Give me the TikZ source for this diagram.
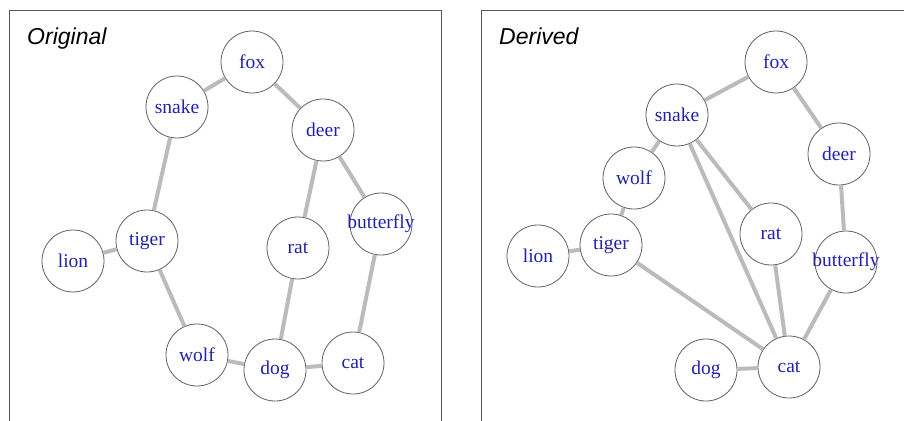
\documentclass[tikz,border=0pt]{standalone}
\usepackage{fontspec}
\setmainfont{Liberation Serif}
\newfontfamily\titlefont{Liberation Sans}
\definecolor{lbl}{HTML}{2222AA}
\definecolor{edgegray}{HTML}{BBBBBB}
\definecolor{ringgray}{HTML}{606060}
\definecolor{framegray}{HTML}{555555}
\begin{document}
\begin{tikzpicture}[x=1pt,y=-1pt,
  animal/.style={circle, draw=ringgray, line width=0.8pt, fill=white, minimum size=62pt, inner sep=0pt,
    text=lbl, font=\fontsize{19.5}{21}\selectfont},
  link/.style={draw=edgegray, line width=4pt},
  frame/.style={draw=framegray, line width=0.9pt},
  paneltitle/.style={anchor=base west, inner sep=0pt, font=\titlefont\itshape\fontsize{23}{26}\selectfont}]
\useasboundingbox (0,0) rectangle (904,420);
\clip (0,0) rectangle (904,420);
\draw[frame] (9,10) rectangle (441,440);
\draw[frame] (481,10) rectangle (920,440);
\node[paneltitle] (t1) at (27,45) {Original};
\node[paneltitle] (t2) at (499,45) {Derived};
% Left panel
\node[animal] (Lfox) at (252,62) {fox};
\node[animal] (Lsnake) at (177,107) {snake};
\node[animal] (Ldeer) at (323,130) {deer};
\node[animal] (Ltiger) at (147,241) {tiger};
\node[animal] (Llion) at (73,261) {lion};
\node[animal] (Lrat) at (298,248) {rat};
\node[animal] (Lbutterfly) at (381,224) {\makebox[0pt]{butterfly}};
\node[animal] (Lwolf) at (197,355) {wolf};
\node[animal] (Ldog) at (275,370) {dog};
\node[animal] (Lcat) at (353,363) {cat};
\draw[link] (Lsnake) -- (Lfox);
\draw[link] (Lfox) -- (Ldeer);
\draw[link] (Lsnake) -- (Ltiger);
\draw[link] (Llion) -- (Ltiger);
\draw[link] (Ltiger) -- (Lwolf);
\draw[link] (Lwolf) -- (Ldog);
\draw[link] (Ldog) -- (Lcat);
\draw[link] (Ldog) -- (Lrat);
\draw[link] (Lrat) -- (Ldeer);
\draw[link] (Ldeer) -- (Lbutterfly);
\draw[link] (Lbutterfly) -- (Lcat);
% Right panel
\node[animal] (Rfox) at (776,62) {fox};
\node[animal] (Rsnake) at (677,115) {snake};
\node[animal] (Rdeer) at (839,154) {deer};
\node[animal] (Rwolf) at (634,178) {wolf};
\node[animal] (Rtiger) at (611,245) {tiger};
\node[animal] (Rlion) at (538,256) {lion};
\node[animal] (Rrat) at (771,234) {rat};
\node[animal] (Rbutterfly) at (846,262) {\makebox[0pt]{butterfly}};
\node[animal] (Rdog) at (706,370) {dog};
\node[animal] (Rcat) at (789,367) {cat};
\draw[link] (Rsnake) -- (Rfox);
\draw[link] (Rfox) -- (Rdeer);
\draw[link] (Rdeer) -- (Rbutterfly);
\draw[link] (Rbutterfly) -- (Rcat);
\draw[link] (Rsnake) -- (Rwolf);
\draw[link] (Rwolf) -- (Rtiger);
\draw[link] (Rtiger) -- (Rlion);
\draw[link] (Rtiger) -- (Rcat);
\draw[link] (Rsnake) -- (Rcat);
\draw[link] (Rsnake) -- (Rrat);
\draw[link] (Rrat) -- (Rcat);
\draw[link] (Rdog) -- (Rcat);
\end{tikzpicture}
\end{document}
